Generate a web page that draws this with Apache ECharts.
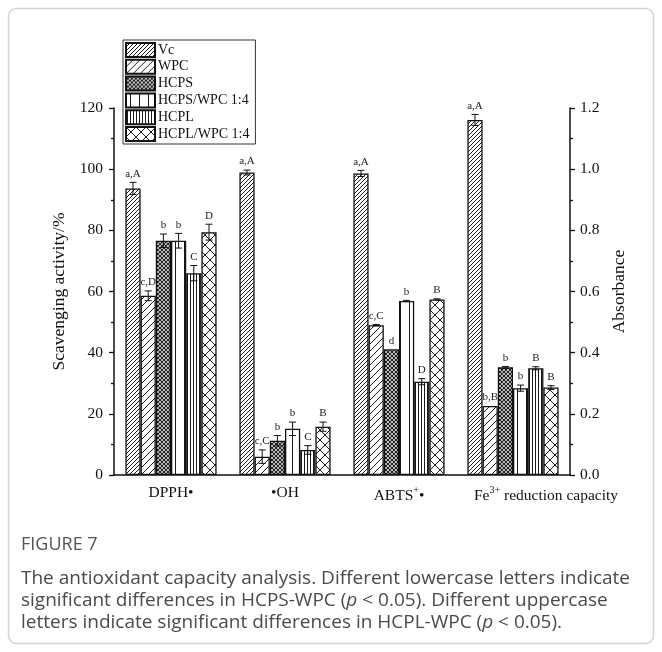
<!DOCTYPE html>
<html>
<head>
<meta charset="utf-8">
<script src="https://cdn.jsdelivr.net/npm/echarts@6/dist/echarts.min.js"></script>
<style>html,body{margin:0;padding:0;background:#fff;}#c{width:662px;height:652px;}</style>
</head>
<body>
<div id="c"></div>
<script>
// ---------------- data ----------------
const categories = ['DPPH•', '•OH', 'ABTS+•', 'Fe3+ reduction capacity'];
const categoryLabels = ['DPPH•', '•OH', '{n|ABTS}{sup|+}{n|•}', '{pad|Fe}{sup|3+}{n| reduction capacity}'];
const samples = ['Vc', 'WPC', 'HCPS', 'HCPS/WPC 1:4', 'HCPL', 'HCPL/WPC 1:4'];
// scavenging activity (%), order = samples
const dpphValues = [93.7, 58.6, 76.6, 76.6, 66.0, 79.4];
const dpphErrors = [2.0, 1.6, 2.2, 2.4, 2.5, 2.6];
const dpphLetters = ['a,A', 'c,D', 'b', 'b', 'C', 'D'];
const ohValues = [98.9, 6.0, 11.2, 15.1, 8.2, 15.8];
const ohErrors = [0.8, 2.2, 1.7, 2.2, 1.4, 1.5];
const ohLetters = ['a,A', 'c,C', 'b', 'b', 'C', 'B'];
const abtsValues = [98.6, 49.0, 41.1, 56.9, 30.5, 57.4];
const abtsErrors = [1.0, 0.2, 0.0, 0.2, 1.0, 0.2];
const abtsLetters = ['a,A', 'c,C', 'd', 'b', 'D', 'B'];
// Fe3+ reduction capacity (absorbance)
const feValues = [1.161, 0.226, 0.352, 0.284, 0.349, 0.286];
const feErrors = [0.018, 0.0, 0.003, 0.010, 0.005, 0.006];
const feLetters = ['a,A', 'b,B', 'b', 'b', 'B', 'B'];
const leftTicks = [0, 120, 20];
const rightTicks = [0, 1.2, 0.2];

// ---------------- styles ----------------
const serif = 'Liberation Serif';
function makePattern(kind, s, lw) {
  const c = document.createElement('canvas');
  c.width = s; c.height = s;
  const g = c.getContext('2d');
  g.fillStyle = '#fff'; g.fillRect(0, 0, s, s);
  g.strokeStyle = '#1a1a1a'; g.lineWidth = lw;
  g.beginPath();
  if (kind === 'fwd' || kind === 'cross') {
    g.moveTo(-1, s + 1); g.lineTo(s + 1, -1);
    g.moveTo(-1, 1); g.lineTo(1, -1);
    g.moveTo(s - 1, s + 1); g.lineTo(s + 1, s - 1);
  }
  if (kind === 'cross') {
    g.moveTo(-1, -1); g.lineTo(s + 1, s + 1);
    g.moveTo(-1, s - 1); g.lineTo(1, s + 1);
    g.moveTo(s - 1, -1); g.lineTo(s + 1, 1);
  }
  if (kind === 'vert') {
    g.moveTo(Math.floor(s / 2) + 0.5, 0); g.lineTo(Math.floor(s / 2) + 0.5, s);
  }
  g.stroke();
  return { image: c, repeat: 'repeat' };
}
const patterns = [
  makePattern('fwd', 4, 1),
  makePattern('fwd', 7, 1),
  makePattern('cross', 4, 1.2),
  makePattern('vert', 9, 1),
  makePattern('vert', 3, 1),
  makePattern('cross', 10, 1)
];

const chart = echarts.init(document.getElementById('c'), null, { renderer: 'canvas' });

const scavGroups = [
  { v: dpphValues, e: dpphErrors, l: dpphLetters },
  { v: ohValues, e: ohErrors, l: ohLetters },
  { v: abtsValues, e: abtsErrors, l: abtsLetters }
];

const series = [];
samples.forEach((name, si) => {
  series.push({
    name: name, type: 'bar', xAxisIndex: 0, yAxisIndex: 0,
    barGap: '0%', barCategoryGap: '20%',
    itemStyle: { color: patterns[si], borderColor: '#111', borderWidth: 1.3 },
    data: scavGroups.map(gr => gr.v[si]).concat(['-'])
  });
});
samples.forEach((name, si) => {
  series.push({
    name: name, type: 'bar', xAxisIndex: 1, yAxisIndex: 1,
    barGap: '0%', barCategoryGap: '20%',
    itemStyle: { color: patterns[si], borderColor: '#111', borderWidth: 1.3 },
    data: ['-', '-', '-', feValues[si]]
  });
});

function errRender(letterLookup) {
  return function (params, api) {
    const cat = api.value(0), si = api.value(1), v = api.value(2), e = api.value(3);
    const band = api.size([1, 0])[0];
    const bw = band * 0.8 / 6;
    const cx = api.coord([cat, v])[0] + (si - 2.5) * bw;
    const yt = api.coord([cat, v + e])[1];
    const yb = api.coord([cat, v - e])[1];
    const children = [];
    if (e > 0) {
      const st = { stroke: '#111', lineWidth: 1 };
      children.push({ type: 'line', shape: { x1: cx, y1: yt, x2: cx, y2: yb }, style: st });
      children.push({ type: 'line', shape: { x1: cx - 3.5, y1: yt, x2: cx + 3.5, y2: yt }, style: st });
      children.push({ type: 'line', shape: { x1: cx - 3.5, y1: yb, x2: cx + 3.5, y2: yb }, style: st });
    }
    children.push({
      type: 'text',
      style: {
        text: letterLookup[params.dataIndex], x: cx, y: Math.min(yt, api.coord([cat, v])[1]) - 3,
        align: 'center', verticalAlign: 'bottom',
        fontFamily: serif, fontSize: 11, fill: '#222'
      }
    });
    return { type: 'group', children: children };
  };
}

const leftErrData = [], leftLetters = [];
scavGroups.forEach((gr, ci) => {
  samples.forEach((n, si) => { leftErrData.push([ci, si, gr.v[si], gr.e[si]]); leftLetters.push(gr.l[si]); });
});
const rightErrData = [], rightLetters = [];
samples.forEach((n, si) => { rightErrData.push([3, si, feValues[si], feErrors[si]]); rightLetters.push(feLetters[si]); });

series.push({
  name: 'errLeft', type: 'custom', xAxisIndex: 0, yAxisIndex: 0, z: 5,
  encode: { x: 0, y: 2 }, renderItem: errRender(leftLetters), data: leftErrData
});
series.push({
  name: 'errRight', type: 'custom', xAxisIndex: 1, yAxisIndex: 1, z: 5,
  encode: { x: 0, y: 2 }, renderItem: errRender(rightLetters), data: rightErrData
});

const gridRect = { left: 114, right: 92, top: 108, bottom: 177 };
const axisLineStyle = { color: '#111', width: 1.5 };

const option = {
  animation: false,
  backgroundColor: '#fff',
  grid: [Object.assign({}, gridRect), Object.assign({}, gridRect)],
  legend: {
    data: samples,
    orient: 'vertical',
    left: 123, top: 40,
    itemWidth: 29, itemHeight: 14, itemGap: 0.8,
    padding: [2, 6, 2, 2],
    borderColor: '#333', borderWidth: 1,
    backgroundColor: '#fff',
    icon: 'rect',
    textStyle: { fontFamily: serif, fontSize: 14, lineHeight: 14, color: '#111', padding: [0, 0, 0, -2] }
  },
  xAxis: [
    {
      type: 'category', gridIndex: 0, data: categories,
      axisLine: { lineStyle: axisLineStyle },
      axisTick: { alignWithLabel: true, length: 5, lineStyle: { color: '#111', width: 1.3 } },
      axisLabel: {
        margin: 10, color: '#111', fontFamily: serif, fontSize: 15.5, interval: 0,
        formatter: (val, idx) => categoryLabels[idx],
        rich: {
          n: { fontFamily: serif, fontSize: 15.5, color: '#111', lineHeight: 19, verticalAlign: 'bottom' },
          pad: { fontFamily: serif, fontSize: 15.5, color: '#111', lineHeight: 19, verticalAlign: 'bottom', padding: [0, 0, 0, 66] },
          sup: { fontFamily: serif, fontSize: 10, color: '#111', lineHeight: 11, verticalAlign: 'top' }
        }
      },
      splitLine: { show: false }
    },
    { type: 'category', gridIndex: 1, data: categories, show: false }
  ],
  yAxis: [
    {
      type: 'value', gridIndex: 0, position: 'left',
      min: leftTicks[0], max: leftTicks[1], interval: leftTicks[2],
      name: 'Scavenging activity/%', nameLocation: 'middle', nameGap: 43,
      nameTextStyle: { fontFamily: serif, fontSize: 17.5, color: '#111' },
      axisLine: { show: true, lineStyle: axisLineStyle },
      axisTick: { show: true, length: 5, lineStyle: { color: '#111', width: 1.3 } },
      minorTick: { show: true, splitNumber: 2, length: 3, lineStyle: { color: '#111', width: 1.3 } },
      axisLabel: { margin: 11, color: '#111', fontFamily: serif, fontSize: 15.5 },
      splitLine: { show: false }
    },
    {
      type: 'value', gridIndex: 1, position: 'right',
      min: rightTicks[0], max: rightTicks[1], interval: rightTicks[2],
      name: 'Absorbance', nameLocation: 'middle', nameGap: 31,
      nameTextStyle: { fontFamily: serif, fontSize: 17.5, color: '#111' },
      axisLine: { show: true, lineStyle: axisLineStyle },
      axisTick: { show: true, length: 5, lineStyle: { color: '#111', width: 1.3 } },
      minorTick: { show: true, splitNumber: 2, length: 3, lineStyle: { color: '#111', width: 1.3 } },
      axisLabel: { margin: 10, color: '#111', fontFamily: serif, fontSize: 15.5, formatter: v => v.toFixed(1) },
      splitLine: { show: false }
    }
  ],
  graphic: [
    {
      type: 'rect', silent: true, z: -10,
      shape: { x: 8.5, y: 8.5, width: 645, height: 635, r: 8 },
      style: { fill: 'none', stroke: '#d4d4d4', lineWidth: 1.5 }
    },
    {
      type: 'text', left: 21, top: 536,
      style: { text: 'FIGURE 7', fontFamily: 'Open Sans', fontSize: 18, fontWeight: 500, fill: '#555' }
    },
    {
      type: 'text', left: 21, top: 568,
      style: {
        text: 'The antioxidant capacity analysis. Different lowercase letters indicate\n' +
              'significant differences in HCPS-WPC ({i|p} < 0.05). Different uppercase\n' +
              'letters indicate significant differences in HCPL-WPC ({i|p} < 0.05).',
        fontFamily: 'Open Sans', fontSize: 19, lineHeight: 22, fill: '#4a4a4a',
        rich: { i: { fontFamily: 'Open Sans', fontSize: 19, fontStyle: 'italic', fill: '#4a4a4a', lineHeight: 22 } }
      }
    }
  ],
  series: series
};
chart.setOption(option);
</script>
</body>
</html>
